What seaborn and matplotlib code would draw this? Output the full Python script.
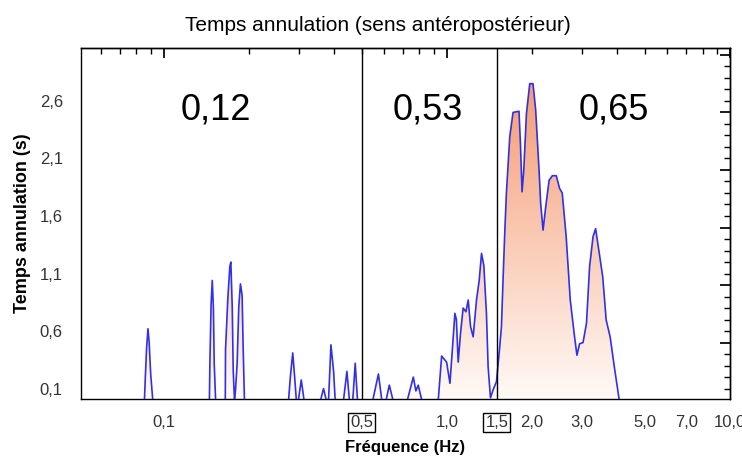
import numpy as np
import pandas as pd
import seaborn as sns
import matplotlib.pyplot as plt
from matplotlib.colors import LinearSegmentedColormap
from matplotlib.ticker import LogLocator, MultipleLocator, NullFormatter

# Data (frequency in Hz, cancellation time in s)
# Low band (< 0.5 Hz): isolated spikes
freq_low = [0.051, 0.0855, 0.0860, 0.0870, 0.0880, 0.0888, 0.0900, 0.0915,
            0.1450, 0.1456, 0.1470, 0.1484, 0.1498, 0.1508, 0.1525,
            0.1650, 0.1653, 0.1684, 0.1712, 0.1726, 0.1746, 0.1760, 0.1778,
            0.1793, 0.1817, 0.1841, 0.1866, 0.1892, 0.1908, 0.1928,
            0.276, 0.280, 0.2855, 0.290, 0.294,
            0.299, 0.306, 0.313,
            0.358, 0.3667, 0.375,
            0.382, 0.3895, 0.398, 0.4032,
            0.4314, 0.4435, 0.4526,
            0.4652, 0.4745, 0.4833]
temps_low = [0, 0, 0.16, 0.45, 0.62, 0.51, 0.22, 0,
             0, 0.33, 0.83, 1.04, 0.80, 0.32, 0,
             0, 0.435, 0.88, 1.16, 1.20, 0.81, 0.25, 0,
             0.09, 0.32, 0.81, 1.01, 0.91, 0.45, 0,
             0, 0.20, 0.41, 0.20, 0,
             0, 0.175, 0,
             0, 0.10, 0,
             0, 0.48, 0.25, 0,
             0, 0.25, 0,
             0, 0.32, 0]

# Mid band (0.5 - 1.5 Hz)
freq_mid = [0.5475, 0.573, 0.589,
            0.610, 0.626, 0.645,
            0.725, 0.761, 0.777, 0.792, 0.815,
            0.932, 0.958, 0.9976, 1.025, 1.047, 1.067, 1.080, 1.096, 1.117,
            1.141, 1.167, 1.189, 1.212, 1.238, 1.272, 1.300, 1.325, 1.350,
            1.379, 1.398, 1.425]
temps_mid = [0, 0.227, 0,
             0, 0.13, 0,
             0, 0.20, 0.08, 0.13, 0,
             0, 0.383, 0.33, 0.146, 0.464, 0.754, 0.70, 0.33, 0.58,
             0.80, 0.768, 0.87, 0.638, 0.55, 0.87, 1.04, 1.275, 1.17,
             0.754, 0.29, 0.02]

# High band (> 1.5 Hz)
freq_high = [1.455, 1.496, 1.536, 1.558, 1.578, 1.600, 1.622, 1.667, 1.712,
             1.797, 1.818, 1.842, 1.868, 1.909, 1.961, 2.014, 2.058, 2.115,
             2.143, 2.185, 2.233, 2.295, 2.357, 2.433, 2.499, 2.554, 2.637,
             2.726, 2.823, 2.878, 2.941, 3.024, 3.110, 3.190, 3.280, 3.350,
             3.440, 3.550, 3.650, 3.770, 3.900, 4.060, 10.0]
temps_high = [0.088, 0.16, 0.46, 0.64, 1.04, 1.45, 1.80, 2.29, 2.50,
              2.51, 2.23, 1.81, 2.00, 2.49, 2.75, 2.75, 2.52, 2.00,
              1.71, 1.477, 1.68, 1.91, 1.95, 1.95, 1.84, 1.80, 1.42,
              0.87, 0.55, 0.39, 0.49, 0.50, 0.667, 1.16, 1.42, 1.49,
              1.30, 1.07, 0.696, 0.55, 0.29, 0.0, 0.0]

band_labels = ["0,12", "0,53", "0,65"]
band_label_freq = [0.1525, 0.857, 3.90]
band_limits = [0.5, 1.5]

xticks = [0.1, 0.5, 1.0, 1.5, 2.0, 3.0, 5.0, 7.0, 10.0]
xtick_labels = ["0,1", "0,5", "1,0", "1,5", "2,0", "3,0", "5,0", "7,0", "10,0"]
yticks = [0.1, 0.6, 1.1, 1.6, 2.1, 2.6]
ytick_labels = ["0,1", "0,6", "1,1", "1,6", "2,1", "2,6"]

df = pd.DataFrame({"freq": freq_low + freq_mid + freq_high,
                   "temps": temps_low + temps_mid + temps_high})

sns.set_theme(style="white")
plt.rcParams["font.family"] = ["Liberation Sans", "DejaVu Sans"]

fig = plt.figure(figsize=(7.42, 4.57), dpi=100)
ax = fig.add_axes([0.109, 0.127, 0.875, 0.768])
ax.set_xscale("log")

# gradient fill under the curve (orange at top, white at bottom)
poly = ax.fill_between(df["freq"], df["temps"], -1, facecolor="none", lw=0)
cmap = LinearSegmentedColormap.from_list("fill", ["#fffaf7", "#f59a70"])
grad = np.linspace(0, 1, 256).reshape(-1, 1)
img = ax.imshow(grad, extent=[0.051, 10, 0, 2.8], origin="lower", aspect="auto",
                cmap=cmap, zorder=1, interpolation="bilinear")
img.set_clip_path(poly.get_paths()[0], transform=ax.transData)

sns.lineplot(data=df, x="freq", y="temps", estimator=None, sort=False,
             color="#3030e8", lw=1.2, ax=ax, zorder=3)

for f in band_limits:
    ax.axvline(f, color="black", lw=1, zorder=4)

for lab, f in zip(band_labels, band_label_freq):
    ax.text(f, 2.52, lab, fontsize=26, ha="center", va="center", color="black")

ax.set_xlim(0.051, 10)
ax.set_ylim(0.01, 3.06)
ax.set_aspect("auto")

ax.set_xticks(xticks, xtick_labels)
ax.xaxis.set_minor_locator(LogLocator(base=10, subs=np.arange(1, 10) * 1.0))
ax.xaxis.set_minor_formatter(NullFormatter())
ax.set_yticks(yticks, ytick_labels)
ax.yaxis.set_minor_locator(MultipleLocator(0.1))

ax.tick_params(which="both", direction="inout", color="black",
               labelcolor="#333333", labelsize=12, top=False, right=False)
ax.tick_params(which="major", length=7, width=1)
ax.tick_params(which="minor", length=5, width=1)
ax.tick_params(axis="x", pad=8)
ax.tick_params(axis="y", pad=9.5)

for lab in ax.get_xticklabels():
    if lab.get_text() in ("0,5", "1,5"):
        lab.set_bbox(dict(facecolor="white", edgecolor="black", pad=0.12,
                          boxstyle="square", linewidth=1))

# ticks on the top and right spines point inwards
secx = ax.secondary_xaxis("top")
secx.xaxis.set_major_locator(LogLocator(base=10))
secx.xaxis.set_minor_locator(LogLocator(base=10, subs=np.arange(2, 10) * 1.0))
secx.xaxis.set_major_formatter(NullFormatter())
secx.xaxis.set_minor_formatter(NullFormatter())
secx.tick_params(which="both", direction="in", color="black")
secx.tick_params(which="major", length=7)
secx.tick_params(which="minor", length=4)
secy = ax.secondary_yaxis("right")
secy.yaxis.set_major_locator(MultipleLocator(0.5))
secy.yaxis.set_minor_locator(MultipleLocator(0.1))
secy.yaxis.set_major_formatter(NullFormatter())
secy.tick_params(which="both", direction="in", color="black")
secy.tick_params(which="major", length=7)
secy.tick_params(which="minor", length=4)

for a in (ax, secx, secy):
    for sp in a.spines.values():
        sp.set_color("black")
        sp.set_linewidth(1)

ax.set_xlabel("Fréquence (Hz)", fontsize=12, fontweight="bold", labelpad=7,
              color="black")
ax.set_ylabel("Temps annulation (s)", fontsize=13, fontweight="bold", labelpad=6,
              color="black")
ax.set_title("Temps annulation (sens antéropostérieur)", fontsize=15, pad=12,
             x=0.457, color="black")

fig.savefig("out.png", dpi=100)
